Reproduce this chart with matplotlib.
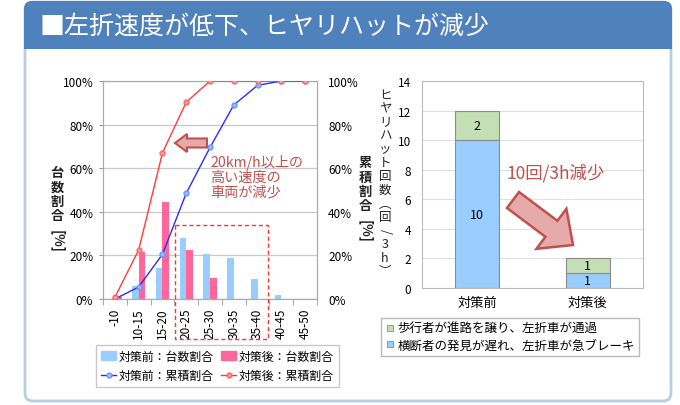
import matplotlib
matplotlib.use('Agg')
import matplotlib.pyplot as plt
from matplotlib.patches import FancyBboxPatch, Rectangle, FancyArrow, Patch
from matplotlib.lines import Line2D
import numpy as np

plt.rcParams['font.family'] = ['Noto Sans CJK JP', 'DejaVu Sans']

# left chart: speed band shares (%)
speed_bins = ['-10', '10-15', '15-20', '20-25', '25-30', '30-35', '35-40', '40-45', '45-50']
share_before = [0, 5.8, 14.4, 28, 20.5, 19, 9.2, 1.8, 0]
share_after = [0.8, 21.4, 44.4, 22.7, 9.8, 0, 0, 0, 0]
cum_before = [0, 5.5, 20.5, 48.5, 69.5, 89, 98, 100, 100]
cum_after = [0.8, 22.5, 67, 90.3, 100, 100, 100, 100, 100]
pct_ticks = [0, 20, 40, 60, 80, 100]

# right chart: near-miss counts per 3h
measures = ['対策前', '対策後']
brake_counts = [10, 1]
yield_counts = [2, 1]
count_ticks = [0, 2, 4, 6, 8, 10, 12, 14]

W, H = 680, 406
BLUE_BAR = '#99ccff'
PINK_BAR = '#ff6699'
GREEN_BAR = '#c4dfb3'
DARK_RED = '#c0504d'
GRID = '#c8c8c8'


def px(x0, y0, x1, y1):
    # pixel box -> figure fraction rect
    return [x0 / W, 1 - y1 / H, (x1 - x0) / W, (y1 - y0) / H]


def vtext(ax, x, y0, step, chars, size=9, weight='normal'):
    for i, c in enumerate(chars):
        rot = -90 if c in '[]()/%' else 0
        ax.text(x, y0 + i * step, c, ha='center', va='center', fontsize=size,
                rotation=rot, color='#222222', weight=weight)


fig = plt.figure(figsize=(6.8, 4.06), dpi=100)

# background panel
bg = fig.add_axes([0, 0, 1, 1], zorder=-10)
bg.set_xlim(0, W)
bg.set_ylim(H, 0)
bg.axis('off')
bg.add_patch(FancyBboxPatch((25, 3), 646, 399, boxstyle='round,pad=0,rounding_size=8',
                            fc='white', ec='#b8cce4', lw=2))
bg.add_patch(FancyBboxPatch((24, 2), 648, 48, boxstyle='round,pad=0,rounding_size=8',
                            fc='#4f81bd', ec='none'))
bg.add_patch(Rectangle((24, 30), 648, 20, fc='#4f81bd', ec='none'))
bg.text(40, 27, '■左折速度が低下、ヒヤリハットが減少', color='white', fontsize=18,
        va='center', ha='left')

# left chart
ax1 = fig.add_axes(px(103, 82, 317, 300))
x = np.arange(len(speed_bins))
bw = 0.28
ax1.bar(x - bw / 2, share_before, bw, color=BLUE_BAR, zorder=2)
ax1.bar(x + bw / 2, share_after, bw, color=PINK_BAR, zorder=2)
ax1.set_xlim(-0.5, len(speed_bins) - 0.5)
ax1.set_ylim(0, 100)
ax1.set_yticks(pct_ticks)
ax1.set_yticklabels([f'{v}%' for v in pct_ticks], fontsize=8.5)
ax1.set_xticks(x)
ax1.set_xticklabels(speed_bins, rotation=90, fontsize=8.5)
ax1.set_xticks(np.arange(len(speed_bins) + 1) - 0.5, minor=True)
ax1.tick_params(axis='x', which='major', length=0, pad=6)
ax1.tick_params(axis='x', which='minor', length=4, color='#999999')
ax1.tick_params(axis='y', length=3, color='#999999', pad=4)
ax1.grid(axis='y', color=GRID, lw=0.9, zorder=0)
for s in ax1.spines.values():
    s.set_color('#aaaaaa')

ax1b = ax1.twinx()
ax1b.plot(x, cum_before, color='#2b2bff', lw=1.0, marker='o', ms=3.5,
          mfc='#99bbff', mec='#6699ff', zorder=3)
ax1b.plot(x, cum_after, color='#ff3b3b', lw=1.0, marker='o', ms=3.5,
          mfc='#ff9999', mec='#ff6666', zorder=3)
ax1b.set_ylim(0, 100)
ax1b.set_yticks(pct_ticks)
ax1b.set_yticklabels([f'{v}%' for v in pct_ticks], fontsize=8.5)
ax1b.tick_params(axis='y', length=0, pad=8)
for s in ax1b.spines.values():
    s.set_color('#aaaaaa')

handles = [Patch(color=BLUE_BAR),
           Line2D([], [], color='#2b2bff', lw=1, marker='o', ms=3.5, mfc='#99bbff', mec='#6699ff'),
           Patch(color=PINK_BAR),
           Line2D([], [], color='#ff3b3b', lw=1, marker='o', ms=3.5, mfc='#ff9999', mec='#ff6666')]
labels = ['対策前：台数割合', '対策前：累積割合', '対策後：台数割合', '対策後：累積割合']
fig.legend(handles, labels, ncol=2, loc='upper left', bbox_to_anchor=(90 / W, 1 - 340 / H),
           fontsize=8.6, frameon=True, fancybox=False, edgecolor='#bbbbbb',
           handlelength=1.3, handleheight=0.8, handletextpad=0.2, columnspacing=0.6,
           borderpad=0.4, labelspacing=0.55)

# right chart
ax2 = fig.add_axes(px(422, 82, 643, 289))
xm = np.arange(len(measures))
ax2.bar(xm, brake_counts, 0.4, color=BLUE_BAR, edgecolor='#8c8c8c', lw=0.8, zorder=2)
ax2.bar(xm, yield_counts, 0.4, bottom=brake_counts, color=GREEN_BAR, edgecolor='#8c8c8c',
        lw=0.8, zorder=2)
for i in range(len(measures)):
    ax2.text(xm[i], brake_counts[i] / 2, str(brake_counts[i]), ha='center', va='center', fontsize=9)
    ax2.text(xm[i], brake_counts[i] + yield_counts[i] / 2, str(yield_counts[i]),
             ha='center', va='center', fontsize=9)
ax2.set_xlim(-0.5, 1.5)
ax2.set_ylim(0, 14)
ax2.set_yticks(count_ticks)
ax2.set_yticklabels([str(v) for v in count_ticks], fontsize=8.5)
ax2.set_xticks(xm)
ax2.set_xticklabels(measures, fontsize=9.5)
ax2.tick_params(axis='x', length=0, pad=6)
ax2.tick_params(axis='y', length=0, pad=8)
ax2.grid(axis='y', color='#e0e0e0', lw=0.8, zorder=0)
for s in ax2.spines.values():
    s.set_color('#bbbbbb')

h2 = [Line2D([], [], ls='none', marker='s', ms=5, mfc=GREEN_BAR, mec='#8c8c8c', mew=0.6),
      Line2D([], [], ls='none', marker='s', ms=5, mfc=BLUE_BAR, mec='#8c8c8c', mew=0.6)]
l2 = ['歩行者が進路を譲り、左折車が通過', '横断者の発見が遅れ、左折車が急ブレーキ']
fig.legend(h2, l2, loc='upper left', bbox_to_anchor=(375 / W, 1 - 313 / H), fontsize=9,
           frameon=True, fancybox=False, edgecolor='#aaaaaa', handlelength=0.8,
           handletextpad=0.2, borderpad=0.3, labelspacing=0.3)

# foreground decorations
fg = fig.add_axes([0, 0, 1, 1], zorder=10)
fg.set_xlim(0, W)
fg.set_ylim(H, 0)
fg.axis('off')
fg.patch.set_alpha(0)

vtext(fg, 57, 173, 14.5, '台数割合', size=9.5, weight='bold')
fg.text(57, 241, '[%]', rotation=-90, ha='center', va='center', fontsize=9.5, color='#222222',
        weight='bold')
vtext(fg, 365, 163, 14.5, '累積割合', size=9.5, weight='bold')
fg.text(365, 231, '[%]', rotation=-90, ha='center', va='center', fontsize=9.5, color='#222222',
        weight='bold')
vtext(fg, 385, 95, 13.6, ['ヒ', 'ヤ', 'リ', 'ハ', 'ッ', 'ト', '回', '数', '︵', '回', '/', '3', 'h', '︶'],
      size=9)

fg.add_patch(Rectangle((175, 226), 93, 114, fill=False, ec='#ff3333', ls=(0, (3, 2)), lw=1))
fg.add_patch(FancyArrow(207, 144, -32, 0, width=9, head_width=18, head_length=12,
                        length_includes_head=True, fc='#e6aaaa', ec=DARK_RED, lw=1.5))
fg.text(210, 155, '20km/h以上の\n高い速度の\n車両が減少', color=DARK_RED, fontsize=10.2,
        va='top', ha='left', linespacing=1.05)

fg.add_patch(FancyArrow(513, 201, 60, 45, width=20, head_width=50, head_length=27,
                        length_includes_head=True, fc='#e6aaaa', ec=DARK_RED, lw=1.8))
fg.text(506, 173, '10回/3h減少', color=DARK_RED, fontsize=12.5, va='center', ha='left')

fig.savefig('out.png', dpi=100)
